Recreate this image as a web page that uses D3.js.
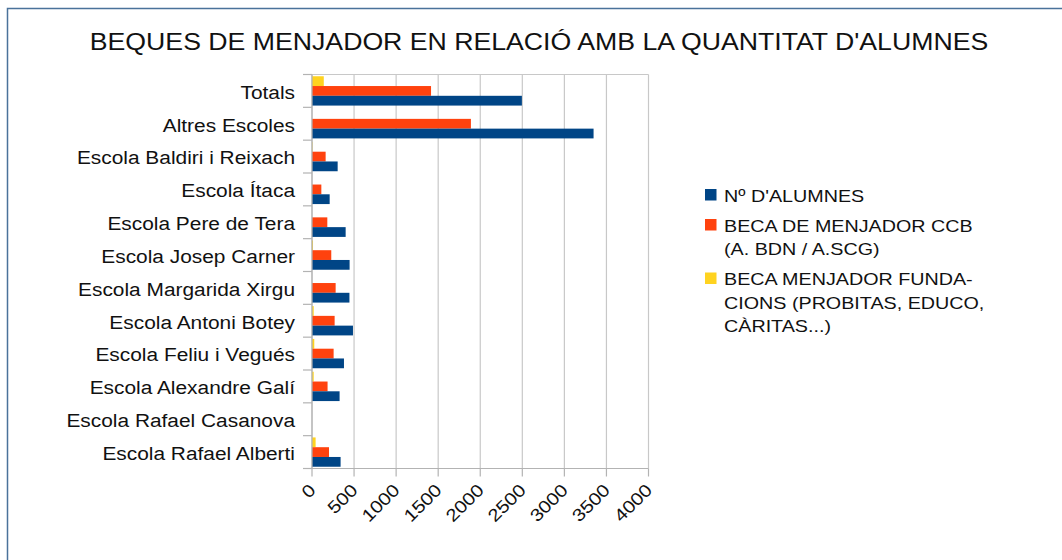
<!DOCTYPE html>
<html>
<head>
<meta charset="utf-8" />
<title>Beques de menjador</title>
<script src="https://d3js.org/d3.v7.min.js"></script>
<style>
body { margin: 0; background: #fff; }
svg { font-family: "Liberation Sans", Arial, sans-serif; }
</style>
</head>
<body>
<div id="chart"></div>
<script>
// categories, top to bottom as in the chart
var escoles = ["Totals", "Altres Escoles", "Escola Baldiri i Reixach", "Escola Ítaca",
    "Escola Pere de Tera", "Escola Josep Carner", "Escola Margarida Xirgu",
    "Escola Antoni Botey", "Escola Feliu i Vegués", "Escola Alexandre Galí",
    "Escola Rafael Casanova", "Escola Rafael Alberti"];
// series
var alumnes    = [2495, 3347, 305, 210, 400, 447, 445, 487, 380, 328, 0, 340];
var becaCCB    = [1415, 1889, 162, 111, 182, 229, 281, 269, 257, 185, 0, 202];
var becaFund   = [140, 0, 5, 0, 0, 12, 0, 20, 27, 20, 0, 43];
var xTicks = [0, 500, 1000, 1500, 2000, 2500, 3000, 3500, 4000];

var series = [
    { key: "fund", values: becaFund, color: "#ffd320" },
    { key: "ccb", values: becaCCB, color: "#ff420e" },
    { key: "alumnes", values: alumnes, color: "#004586" }
];
var legendItems = [
    { color: "#004586", lines: ["Nº D'ALUMNES"] },
    { color: "#ff420e", lines: ["BECA DE MENJADOR CCB", "(A. BDN / A.SCG)"] },
    { color: "#ffd320", lines: ["BECA MENJADOR FUNDA-", "CIONS (PROBITAS, EDUCO,", "CÀRITAS...)"] }
];

var W = 1062, H = 560;
var SX = 1.16; // the text in the original looks stretched sideways
var svg = d3.select("#chart").append("svg").attr("width", W).attr("height", H);

// places a text at (px,py), stretched horizontally
function stretched(sel, px, py) {
    return sel.attr("transform", "translate(" + px + "," + py + ") scale(" + SX + ",1)");
}

// frame
svg.append("rect").attr("x", 7.5).attr("y", 8.5).attr("width", 1100).attr("height", 600)
    .attr("fill", "none").attr("stroke", "#4a729a").attr("stroke-width", 1.5);

stretched(svg.append("text"), 539, 50).attr("text-anchor", "middle")
    .attr("font-size", 23).attr("fill", "#111")
    .text("BEQUES DE MENJADOR EN RELACIÓ AMB LA QUANTITAT D'ALUMNES");

var pLeft = 312, pRight = 648.5, pTop = 74.5, pBottom = 468.5;
var x = d3.scaleLinear().domain([0, 4000]).range([pLeft, pRight]);
var y = d3.scaleBand().domain(escoles).range([pTop, pBottom]);
var inner = d3.scaleBand().domain(series.map(function(s) { return s.key; }))
    .range([0, y.bandwidth()]).paddingOuter(0.18);

// grid
svg.append("g").selectAll("line").data(xTicks).enter().append("line")
    .attr("x1", function(d) { return x(d); }).attr("x2", function(d) { return x(d); })
    .attr("y1", pTop).attr("y2", pBottom)
    .attr("stroke", "#c8c8c8").attr("stroke-width", 1.2);
svg.append("line").attr("x1", pLeft).attr("x2", pRight).attr("y1", pTop).attr("y2", pTop)
    .attr("stroke", "#c8c8c8").attr("stroke-width", 1.2);

// bars
series.forEach(function(s) {
    svg.append("g").selectAll("rect").data(escoles).enter().append("rect")
        .attr("x", x(0))
        .attr("y", function(d) { return y(d) + inner(s.key); })
        .attr("width", function(d, i) { return x(s.values[i]) - x(0); })
        .attr("height", inner.bandwidth())
        .attr("fill", s.color);
});

// y axis
var yAxis = svg.append("g").attr("transform", "translate(" + pLeft + ",0)");
yAxis.append("line").attr("x1", 0).attr("x2", 0).attr("y1", pTop).attr("y2", pBottom)
    .attr("stroke", "#b3b3b3").attr("stroke-width", 1.2);
yAxis.selectAll("line.tk").data(d3.range(escoles.length + 1)).enter().append("line")
    .attr("class", "tk").attr("x1", -9).attr("x2", 0)
    .attr("y1", function(i) { return pTop + i * y.step(); })
    .attr("y2", function(i) { return pTop + i * y.step(); })
    .attr("stroke", "#b3b3b3").attr("stroke-width", 1.2);
yAxis.selectAll("text").data(escoles).enter().append("text")
    .attr("transform", function(d) {
        return "translate(-17," + (y(d) + y.bandwidth() / 2 + 1.5) + ") scale(" + SX + ",1)";
    })
    .attr("dy", "0.35em").attr("text-anchor", "end")
    .attr("font-size", 18).attr("fill", "#111").text(function(d) { return d; });

// x axis
var xAxis = svg.append("g");
xAxis.append("line").attr("x1", pLeft).attr("x2", pRight).attr("y1", pBottom).attr("y2", pBottom)
    .attr("stroke", "#b3b3b3").attr("stroke-width", 1.2);
xAxis.selectAll("line.tk").data(xTicks).enter().append("line")
    .attr("class", "tk")
    .attr("x1", function(d) { return x(d); }).attr("x2", function(d) { return x(d); })
    .attr("y1", pBottom).attr("y2", pBottom + 8)
    .attr("stroke", "#b3b3b3").attr("stroke-width", 1.2);
xAxis.selectAll("text").data(xTicks).enter().append("text")
    .attr("transform", function(d) {
        return "translate(" + (x(d) - 4) + "," + (pBottom + 14) + ") rotate(-45) scale(" + SX + ",1)";
    })
    .attr("text-anchor", "end").attr("dy", "0.7em")
    .attr("font-size", 17.5).attr("fill", "#111").text(function(d) { return d; });

// legend
var ly = 189;
var lg = svg.append("g");
legendItems.forEach(function(it) {
    lg.append("rect").attr("x", 705).attr("y", ly).attr("width", 11.5).attr("height", 11.5)
        .attr("fill", it.color);
    it.lines.forEach(function(t, j) {
        stretched(lg.append("text"), 724, ly + 12.5 + j * 23.5)
            .attr("font-size", 17).attr("fill", "#111").text(t);
    });
    ly += it.lines.length * 23.5 + 6.5;
});
</script>
</body>
</html>
